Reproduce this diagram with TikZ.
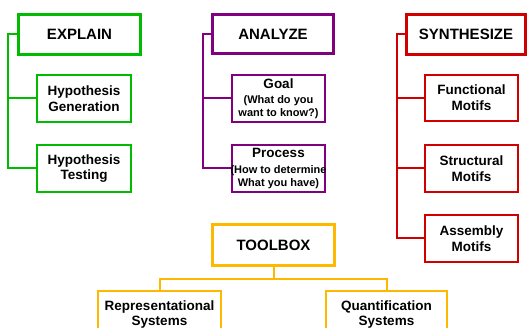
\documentclass[tikz,border=0pt]{standalone}
\usepackage{fontspec}
\setmainfont{Liberation Sans}
\definecolor{cgreen}{RGB}{0,187,0}
\definecolor{cpurple}{RGB}{128,0,128}
\definecolor{cred}{RGB}{208,0,0}
\definecolor{corange}{RGB}{255,184,0}
\begin{document}
\begin{tikzpicture}[x=1pt,y=1pt,
  titlebox/.style={draw, line width=3pt, inner sep=0pt, align=center,
    font=\fontsize{15}{17}\selectfont\bfseries},
  childbox/.style={draw, line width=1.8pt, inner sep=0pt, align=center,
    font=\fontsize{13.5}{15.7}\selectfont\bfseries},
  smallbox/.style={draw, line width=1.8pt, inner sep=0pt, align=center,
    font=\fontsize{11}{13}\selectfont\bfseries},
  link/.style={line width=2pt}]
\useasboundingbox (0,0) rectangle (528,-328);

% EXPLAIN
\begin{scope}[every node/.append style={draw=cgreen}]
\node[titlebox, minimum width=122, minimum height=40] (E) at (79.5,-34.5) {EXPLAIN};
\node[childbox, minimum width=94, minimum height=47] (HG) at (84,-98.5) {Hypothesis\\Generation};
\node[childbox, minimum width=94, minimum height=47] (HT) at (84,-168.5) {Hypothesis\\Testing};
\end{scope}
\coordinate (sg) at (8,0);
\draw[link, cgreen] (E.west) -- (E.west -| sg) |- (HT.west);
\draw[link, cgreen] (HG.west) -- (HG.west -| sg);

% ANALYZE
\begin{scope}[every node/.append style={draw=cpurple}]
\node[titlebox, minimum width=121, minimum height=39] (A) at (273,-34) {ANALYZE};
\node[smallbox, minimum width=93, minimum height=47] (G) at (278.5,-98.5)
  {{\fontsize{13.5}{15.7}\selectfont Goal}\\[2.2pt](What do you\\want to know?)};
\node[smallbox, minimum width=93, minimum height=47] (P) at (278.5,-168.5)
  {{\fontsize{13.5}{15.7}\selectfont Process}\\[2.2pt]\makebox[0pt]{(How to determine}\\What you have)};
\end{scope}
\coordinate (sp) at (203,0);
\draw[link, cpurple] (A.west) -- (A.west -| sp) |- (P.west);
\draw[link, cpurple] (G.west) -- (G.west -| sp);

% SYNTHESIZE
\begin{scope}[every node/.append style={draw=cred}]
\node[titlebox, minimum width=119, minimum height=40] (S) at (466,-34.5) {SYNTHESIZE};
\node[childbox, minimum width=93, minimum height=46] (FM) at (471.5,-98) {Functional\\Motifs};
\node[childbox, minimum width=93, minimum height=47] (SM) at (471.5,-168.5) {Structural\\Motifs};
\node[childbox, minimum width=93, minimum height=47] (AM) at (471.5,-238.5) {Assembly\\Motifs};
\end{scope}
\coordinate (sr) at (397,0);
\draw[link, cred] (S.west) -- (S.west -| sr) |- (AM.west);
\draw[link, cred] (FM.west) -- (FM.west -| sr);
\draw[link, cred] (SM.west) -- (SM.west -| sr);

% TOOLBOX
\begin{scope}[every node/.append style={draw=corange}]
\node[titlebox, minimum width=122, minimum height=41] (T) at (273.5,-245) {TOOLBOX};
\node[childbox, minimum width=123, minimum height=47, anchor=north] (R) at (159.5,-290)
  {Representational\\Systems};
\node[childbox, minimum width=121, minimum height=47, anchor=north] (Q) at (386.5,-290)
  {Quantification\\Systems};
\end{scope}
\coordinate (tb) at (273.5,-279);
\draw[link, corange] (T.south) -- (tb);
\draw[link, corange] (R.north) |- (tb) -| (Q.north);
\end{tikzpicture}
\end{document}
